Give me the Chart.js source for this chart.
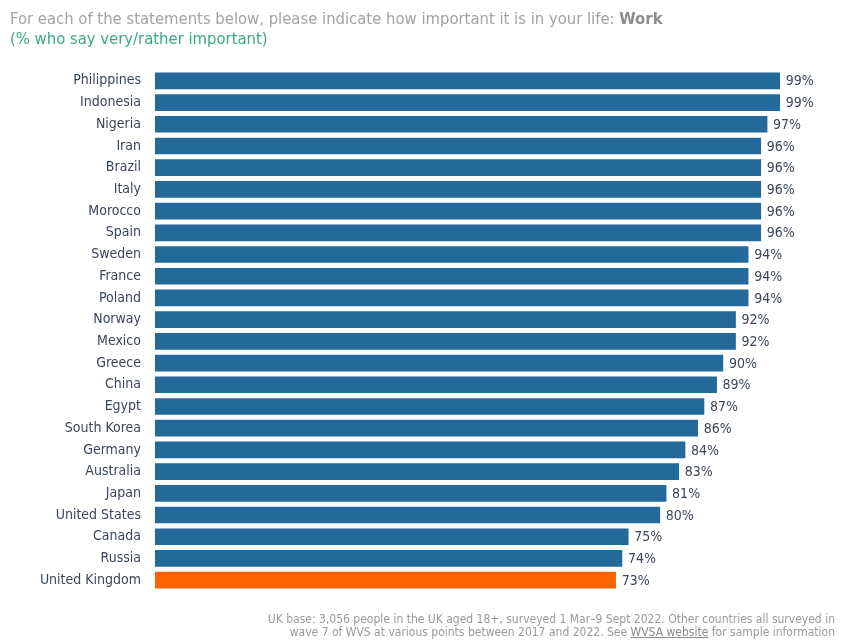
<!DOCTYPE html>
<html lang="en">
<head>
    <meta charset="UTF-8">
    <title>index</title>
    <script src="https://cdn.jsdelivr.net/npm/chart.js@4"></script>
    <style>
        body {
            margin: 0;
            background: #fff;
            font-family: "DejaVu Sans Condensed", sans-serif;
        }

        .wrap {
            position: relative;
            width: 857px;
            height: 642px;
        }

        .title {
            position: absolute;
            left: 10px;
            top: 9px;
            font-size: 16.5px;
            line-height: 20px;
            color: #a3a3a3;
            white-space: nowrap;
        }

        .title b {
            color: #8d8d8d;
        }

        .title .sub {
            color: #3aa98a;
        }

        .foot {
            position: absolute;
            right: 22px;
            top: 613px;
            font-size: 12px;
            line-height: 13px;
            color: #9a9a9a;
            text-align: right;
            white-space: nowrap;
        }

        .foot u {
            color: #8a8a8a;
        }

        canvas {
            position: absolute;
            left: 0;
            top: 0;
        }
    </style>
</head>
<body>
<div class="wrap">
    <canvas id="canvas" width="857" height="642"></canvas>
    <div class="title">
        For each of the statements below, please indicate how important it is in your life: <b>Work</b><br>
        <span class="sub">(% who say very/rather important)</span>
    </div>
    <div class="foot">
        UK base: 3,056 people in the UK aged 18+, surveyed 1 Mar–9 Sept 2022. Other countries all surveyed in<br>
        wave 7 of WVS at various points between 2017 and 2022. See <u>WVSA website</u> for sample information
    </div>
</div>

<script>
    var countries = ["Philippines", "Indonesia", "Nigeria", "Iran", "Brazil", "Italy", "Morocco", "Spain",
        "Sweden", "France", "Poland", "Norway", "Mexico", "Greece", "China", "Egypt", "South Korea",
        "Germany", "Australia", "Japan", "United States", "Canada", "Russia", "United Kingdom"];
    var values = [99, 99, 97, 96, 96, 96, 96, 96, 94, 94, 94, 92, 92, 90, 89, 87, 86, 84, 83, 81, 80, 75, 74, 73];

    var blue = '#236a9b';
    var orange = '#ff6200';

    var barColors = countries.map(function (c) {
        return c === 'United Kingdom' ? orange : blue;
    });

    // percentage labels at the end of each bar
    var valueLabels = {
        id: 'valueLabels',
        afterDatasetsDraw: function (chart) {
            var ctx = chart.ctx;
            var meta = chart.getDatasetMeta(0);
            ctx.save();
            ctx.font = '14px "DejaVu Sans Condensed", sans-serif';
            ctx.fillStyle = '#3b4758';
            ctx.textAlign = 'left';
            ctx.textBaseline = 'middle';
            meta.data.forEach(function (bar, i) {
                ctx.fillText(values[i] + '%', bar.x + 6, bar.y + 1);
            });
            ctx.restore();
        }
    };

    new Chart(document.getElementById('canvas').getContext('2d'), {
        type: 'bar',
        data: {
            labels: countries,
            datasets: [{
                data: values,
                backgroundColor: barColors,
                borderWidth: 0,
                barThickness: 16
            }]
        },
        options: {
            indexAxis: 'y',
            responsive: false,
            animation: false,
            layout: {
                padding: {top: 70, right: 71, bottom: 51, left: 0}
            },
            plugins: {
                legend: {display: false},
                tooltip: {enabled: false}
            },
            scales: {
                x: {
                    display: false,
                    min: 0,
                    max: 100
                },
                y: {
                    afterFit: function (scale) {
                        scale.width = 155;
                    },
                    grid: {display: false, drawTicks: false},
                    border: {display: false},
                    ticks: {
                        padding: 14,
                        color: '#3b4758',
                        font: {family: '"DejaVu Sans Condensed", sans-serif', size: 14}
                    }
                }
            }
        },
        plugins: [valueLabels]
    });
</script>
</body>
</html>
